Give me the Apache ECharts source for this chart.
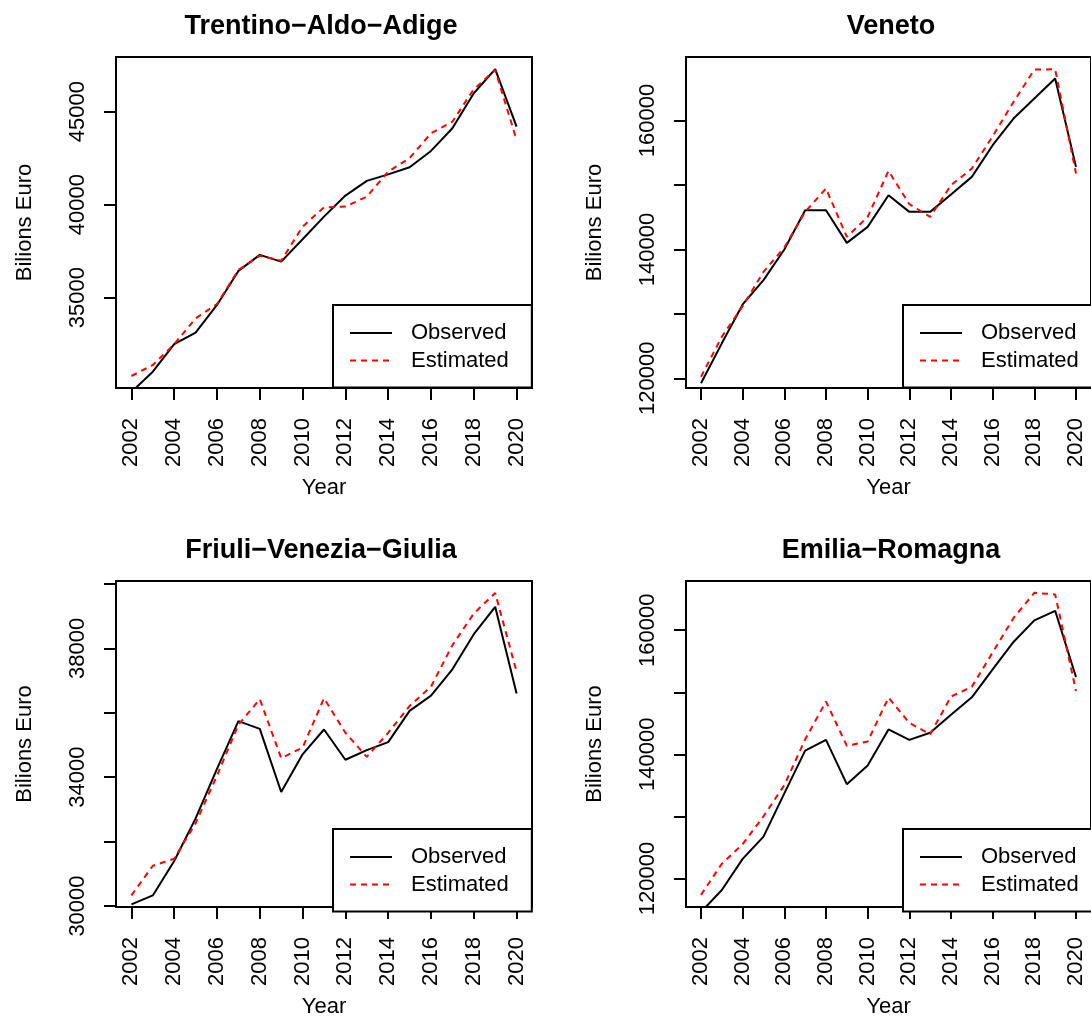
<!DOCTYPE html>
<html>
<head>
<meta charset="utf-8">
<script src="https://cdn.jsdelivr.net/npm/echarts@6/dist/echarts.min.js"></script>
<style>
html,body{margin:0;padding:0;background:#fff;}
#chart{width:1091px;height:1019px;}
</style>
</head>
<body>
<div id="chart"></div>
<script>
// ---- Data ----
const years = [2002, 2003, 2004, 2005, 2006, 2007, 2008, 2009, 2010, 2011, 2012, 2013, 2014, 2015, 2016, 2017, 2018, 2019, 2020];
const yearTicks = [2002, 2004, 2006, 2008, 2010, 2012, 2014, 2016, 2018, 2020];

const panelTitles = ['Trentino\u2212Aldo\u2212Adige', 'Veneto', 'Friuli\u2212Venezia\u2212Giulia', 'Emilia\u2212Romagna'];

const trentinoObserved  = [29930, 31020, 32500, 33120, 34610, 36440, 37300, 36940, 38140, 39360, 40490, 41280, 41630, 42010, 42890, 44110, 45990, 47290, 44200];
const trentinoEstimated = [30790, 31380, 32500, 33890, 34660, 36490, 37260, 36990, 38820, 39860, 39900, 40430, 41780, 42500, 43840, 44460, 46210, 47240, 43480];

const venetoObserved  = [119230, 125430, 131470, 135240, 140000, 146090, 146090, 141020, 143500, 148420, 145830, 145830, 148530, 151260, 156170, 160310, 163410, 166510, 152810];
const venetoEstimated = [120250, 126450, 131200, 136530, 140310, 145830, 149460, 141950, 145050, 152190, 147020, 145050, 149970, 152560, 157570, 162880, 167910, 167950, 151780];

const friuliObserved  = [30050, 30330, 31400, 32720, 34260, 35740, 35500, 33540, 34710, 35480, 34540, 34840, 35090, 36060, 36530, 37350, 38440, 39290, 36600];
const friuliEstimated = [30330, 31250, 31470, 32570, 34050, 35630, 36420, 34590, 34920, 36450, 35380, 34630, 35380, 36210, 36810, 38100, 39080, 39720, 37270];

const emiliaObserved  = [114600, 118150, 123170, 126750, 133710, 140590, 142330, 135200, 138210, 144010, 142330, 143480, 146380, 149180, 153670, 158100, 161580, 163120, 152460];
const emiliaEstimated = [117360, 122380, 125540, 130020, 135040, 142420, 148500, 141380, 142060, 149140, 145070, 143220, 149300, 150880, 156420, 161960, 166020, 165760, 150180];

// y axis ticks and labels per panel
const trentinoTicks = [35000, 40000, 45000];
const trentinoLabels = [35000, 40000, 45000];
const venetoTicks = [120000, 130000, 140000, 150000, 160000];
const venetoLabels = [120000, 140000, 160000];
const friuliTicks = [30000, 32000, 34000, 36000, 38000, 40000];
const friuliLabels = [30000, 34000, 38000];
const emiliaTicks = [120000, 130000, 140000, 150000, 160000];
const emiliaLabels = [120000, 140000, 160000];

// axis ranges (R-style 4% extension of estimated range)
const yRanges = [[30145, 47940], [118500, 169860], [29970, 40090], [115410, 167920]];
const xRange = [2001.28, 2020.72];

// ---- Layout ----
const FONT = '"Liberation Sans", Arial, Helvetica, sans-serif';
const panels = [
  {left: 116, top: 57,  obs: trentinoObserved, est: trentinoEstimated, ticks: trentinoTicks, labels: trentinoLabels},
  {left: 686, top: 57,  obs: venetoObserved,   est: venetoEstimated,   ticks: venetoTicks,   labels: venetoLabels},
  {left: 116, top: 581, obs: friuliObserved,   est: friuliEstimated,   ticks: friuliTicks,   labels: friuliLabels},
  {left: 686, top: 581, obs: emiliaObserved,   est: emiliaEstimated,   ticks: emiliaTicks,   labels: emiliaLabels}
];
const W = 416, H = 331;

const grid = [], xAxis = [], yAxis = [], series = [], title = [], legend = [];
const pair = arr => years.map((y, i) => [y, arr[i]]);
const fmt = v => String(Math.round(v));

panels.forEach((p, i) => {
  grid.push({left: p.left, top: p.top, width: W, height: H, show: true,
    borderColor: '#000', borderWidth: 2, backgroundColor: 'transparent'});
  xAxis.push({
    type: 'value', gridIndex: i, min: xRange[0], max: xRange[1],
    name: 'Year', nameLocation: 'middle', nameGap: 89,
    nameTextStyle: {fontSize: 22, color: '#000', fontFamily: FONT},
    axisLine: {show: false}, splitLine: {show: false},
    axisTick: {show: true, length: 12, customValues: yearTicks, lineStyle: {color: '#000', width: 2}},
    axisLabel: {show: true, rotate: 90, margin: 30, fontSize: 22, color: '#000', fontFamily: FONT,
      customValues: yearTicks, formatter: fmt}
  });
  yAxis.push({
    type: 'value', gridIndex: i, min: yRanges[i][0], max: yRanges[i][1],
    name: 'Bilions Euro', nameLocation: 'middle', nameGap: 80, nameRotate: 90,
    nameTextStyle: {fontSize: 22, color: '#000', fontFamily: FONT},
    axisLine: {show: false}, splitLine: {show: false},
    axisTick: {show: true, length: 12, customValues: p.ticks, lineStyle: {color: '#000', width: 2}},
    axisLabel: {show: true, rotate: 90, margin: 27, fontSize: 22, color: '#000', fontFamily: FONT,
      customValues: p.labels, formatter: fmt}
  });
  series.push({
    type: 'line', name: 'Observed', xAxisIndex: i, yAxisIndex: i, data: pair(p.obs),
    symbol: 'none', clip: true, lineStyle: {color: '#000', width: 2, type: 'solid'},
    itemStyle: {color: '#000'}, emphasis: {disabled: true}, animation: false
  });
  series.push({
    type: 'line', name: 'Estimated', xAxisIndex: i, yAxisIndex: i, data: pair(p.est),
    symbol: 'none', clip: true, lineStyle: {color: '#ff0000', width: 2, type: [6, 5]},
    itemStyle: {color: '#ff0000'}, emphasis: {disabled: true}, animation: false
  });
  title.push({
    text: panelTitles[i], left: p.left + W / 2 - 3, top: p.top - 44, textAlign: 'center', padding: 0,
    textStyle: {fontSize: 27, fontWeight: 'bold', color: '#000', fontFamily: FONT}
  });
  legend.push({
    left: p.left + 217, top: p.top + 248, orient: 'vertical',
    padding: [17, 23, 16, 16], itemWidth: 42, itemHeight: 22, itemGap: 5.5,
    borderColor: '#000', borderWidth: 2, backgroundColor: '#fff', borderRadius: 0,
    selectedMode: false, data: ['Observed', 'Estimated'],
    itemStyle: {opacity: 0, borderWidth: 0},
    lineStyle: {width: 2},
    textStyle: {fontSize: 22, color: '#000', fontFamily: FONT, lineHeight: 22, padding: [0, 0, 0, 14]}
  });
});

const chart = echarts.init(document.getElementById('chart'), null, {renderer: 'canvas'});
chart.setOption({
  animation: false,
  backgroundColor: '#fff',
  textStyle: {fontFamily: FONT},
  title, legend, grid, xAxis, yAxis, series
});
</script>
</body>
</html>
